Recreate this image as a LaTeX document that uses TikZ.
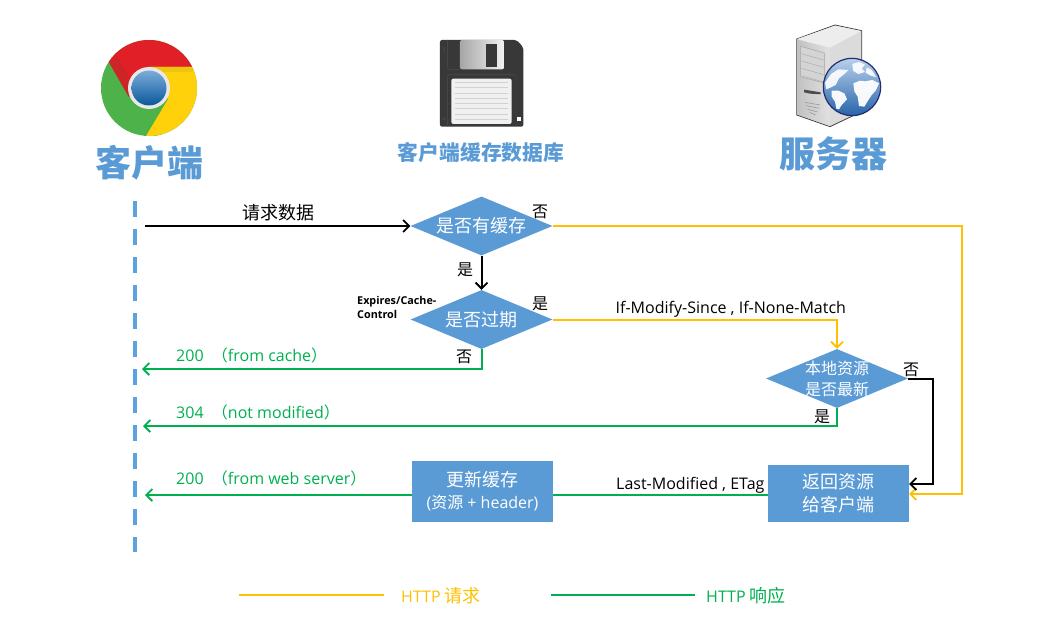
\documentclass[tikz,border=0pt]{standalone}
\usepackage{fontspec}
\setmainfont{Open Sans}
\newfontfamily\cjk{Noto Sans CJK SC}
\usetikzlibrary{shapes.geometric,arrows.meta}
\definecolor{bluefill}{HTML}{5B9BD5}
\definecolor{httpyellow}{HTML}{FFC000}
\definecolor{httpgreen}{HTML}{00B050}
\definecolor{floppy}{HTML}{383838}
\tikzset{
  decision/.style={diamond,fill=bluefill,inner sep=0pt,shape aspect=2.4,minimum width=142pt,minimum height=59pt,text=white,font=\cjk\fontsize{18}{20}\selectfont,align=center},
  procbox/.style={rectangle,fill=bluefill,inner sep=0pt,text=white,align=center,font=\cjk\fontsize{18}{23}\selectfont},
  title/.style={text=bluefill,inner sep=0pt,font=\cjk\bfseries\fontsize{#1}{#1}\selectfont},
  tag/.style={inner sep=0pt,font=\cjk\fontsize{16}{18}\selectfont},
  note/.style={inner sep=0pt,anchor=west,font=\fontsize{16}{18}\selectfont},
  barb/.style={-{Straight Barb[length=6pt,width=12pt,line width=1.8pt]}},
  req/.style={httpyellow,line width=2pt},
  resp/.style={httpgreen,line width=2pt},
  ctl/.style={black,line width=2pt},
}
\begin{document}
\begin{tikzpicture}[x=1pt,y=-1pt]
\useasboundingbox (0,0) rectangle (1057,631);
% ---- Chrome icon
\begin{scope}
  \clip (149,88) circle (48pt);
  \fill[color={rgb,255:red,76;green,178;blue,73}] (90,30) rectangle (210,146);
  \fill[color={rgb,255:red,62;green,150;blue,62}] (168,99) -- (146,136) -- (135,150) -- (160,150) -- cycle;
  \fill[color={rgb,255:red,224;green,32;blue,38}] (129,97) -- (95,38) -- (95,30) -- (205,30) -- (205,67) -- (149,67) -- cycle;
  \fill[color={rgb,255:red,205;green,36;blue,40}] (129,97) -- (109,62) -- (118,57) -- (133,84) -- cycle;
  \fill[color={rgb,255:red,254;green,209;blue,10}] (149,67) -- (205,67) -- (205,145) -- (140,146) -- (168,99) -- cycle;
  \fill[color={rgb,255:red,238;green,196;blue,16}] (149,67) -- (205,67) -- (190,72) -- (160,72) -- cycle;
\end{scope}
\fill[color={rgb,255:red,232;green,232;blue,232}] (149,88) circle (21pt);
\shade[top color={rgb,255:red,122;green,172;blue,218},bottom color={rgb,255:red,10;green,88;blue,155}] (149,88) circle (17.5pt);
% ---- Floppy icon
\begin{scope}[shift={(380,20)},x=0.3333pt,y=-0.3333pt]
  \fill[floppy,rounded corners=2pt] (180,60) -- (410,60) -- (430,82) -- (430,320) -- (180,320) -- cycle;
  \draw[black!70,line width=.4pt,rounded corners=2pt] (203,60) -- (203,148) -- (240,148);
  \draw[black!70,line width=.4pt,rounded corners=2pt] (203,320) -- (203,164) -- (408,164) -- (408,320);
  \shade[left color=black!35,right color=black!5,rounded corners=2pt] (240,60) rectangle (372,148);
  \fill[floppy] (318,73) rectangle (352,140);
  \fill[color=black!6,rounded corners=2pt] (214,176) rectangle (395,312);
  \foreach \yy in {187,203,220,236,251,266,282,297}
    \draw[black!18,line width=.7pt] (225,\yy) -- (384,\yy);
  \fill[white] (411,290) rectangle (424,302);
  \fill[black!75] (187,290) rectangle (197,300);
  \fill[black!75] (189,82) rectangle (194,96);
\end{scope}
% ---- Server icon
\begin{scope}[shift={(760,15)},x=0.3333pt,y=-0.3333pt]
  \fill[color=black!14,draw=black!75,line width=.8pt,line join=round] (110,72) -- (225,30) -- (305,47) -- (305,290) -- (210,335) -- (110,300) -- cycle;
  \fill[color=black!7] (112,72) -- (225,32) -- (303,48) -- (210,98) -- cycle;
  \shade[left color=black!24,right color=black!12] (112,74) -- (210,100) -- (210,333) -- (112,298) -- cycle;
  \draw[black!35,line width=.5pt,fill=black!17] (122,94) -- (193,114) -- (193,204) -- (122,186) -- cycle;
  \foreach \yy in {0,1,2,3}
    \draw[black!32,line width=.5pt] (124,{116+22*\yy}) -- (191,{135+22*\yy});
  \fill[black!70] (132,224) -- (182,232) -- (182,238) -- (150,236) -- (132,232) -- cycle;
  \foreach \yy/\ww in {262/45,272/40,283/30,292/18}
    \draw[black!38,line width=.7pt] ({158-\ww/2},\yy) .. controls (158,{\yy+6}) .. ({158+\ww/2},{\yy+8});
\end{scope}
% ---- Globe
\begin{scope}[shift={(815,50)},x=0.3333pt,y=-0.3333pt]
  \shade[shading angle=10,top color={rgb,255:red,184;green,208;blue,236},bottom color={rgb,255:red,40;green,100;blue,170}] (111,111) circle (86);
  \fill[white,opacity=.95] (115,100) -- (135,92) -- (150,94) -- (172,90) -- (192,100) -- (182,122) -- (170,135) -- (160,150) -- (148,170) -- (132,168) -- (128,140) -- (118,124) -- cycle;
  \fill[white,opacity=.95] (50,122) -- (70,122) -- (88,130) -- (96,148) -- (80,165) -- (72,178) -- (64,176) -- (60,155) -- (50,140) -- cycle;
  \fill[white,opacity=.9] (30,98) -- (48,72) -- (70,58) -- (100,60) -- (88,72) -- (72,85) -- (62,105) -- (48,112) -- (34,118) -- cycle;
  \fill[white,opacity=.9] (112,42) -- (132,36) -- (150,44) -- (140,56) -- (150,66) -- (130,72) -- (114,62) -- cycle;
  \fill[white,opacity=.9] (155,52) -- (170,60) -- (184,82) -- (165,76) -- (152,68) -- cycle;
  \draw[color={rgb,255:red,36;green,44;blue,110},line width=1.2pt] (111,111) circle (86);
\end{scope}
% ---- titles
\node[title=36] (tclient) at (149,163) {客户端};
\node[title=20.8] (tcache) at (481,153) {客户端缓存数据库};
\node[title=36] (tserver) at (833,154) {服务器};
% ---- lifeline
\coordinate (lifetop) at (135,201);
\coordinate (lifebot) at (135,552);
\draw[color={rgb,255:red,91;green,163;blue,224},line width=4pt,dash pattern=on 16pt off 12pt] (lifetop) -- (lifebot);
% ---- flow nodes
\node[decision] (d1) at (481.5,226) {是否有缓存};
\node[decision] (d2) at (481.5,319.5) {是否过期};
\node[decision,label={[text=white,align=center,inner sep=0pt,font=\cjk\fontsize{16}{21}\selectfont]center:本地资源\\是否最新}] (d3) at (837,378.5) {};
\node[procbox,minimum width=141pt,minimum height=57pt] (ret) at (838.5,493.5) {返回资源\\给客户端};
\node[procbox,minimum width=141pt,minimum height=61pt,font=\fontsize{16}{22}\selectfont] (upd) at (482.5,491.5) {{\cjk\fontsize{18}{22}\selectfont 更新缓存}\\({\cjk 资源} + header)};
% ---- free ends
\coordinate (reqstart) at (145,226);
\coordinate (cachehit) at (142,369);
\coordinate (notmod) at (143,426);
\coordinate (fromweb) at (145,495);
\coordinate (yright1) at (962,226);
\coordinate (yright2) at (962,494);
\coordinate (kright1) at (933,378.5);
\coordinate (kright2) at (933,484);
\coordinate (retk) at (909,484);
\coordinate (rety) at (909,494);
\coordinate (d2turn) at (481.5,369);
\coordinate (d3turn) at (837,426);
\coordinate (d2right) at (837,319.5);
\coordinate (retw) at (768,495);
\coordinate (updE) at (553,495);
\coordinate (updW) at (412,495);
% ---- connectors
\draw[ctl,barb] (reqstart) -- (d1.west);
\draw[ctl,barb] (d1.south) -- (d2.north);
\draw[req,barb] (d1.east) -- (yright1) -- (yright2) -- (rety);
\draw[req,barb] (d2.east) -- (d2right) -- (d3.north);
\draw[resp,barb] (d2.south) -- (d2turn) -- (cachehit);
\draw[resp,barb] (d3.south) -- (d3turn) -- (notmod);
\draw[ctl,barb] (d3.east) -- (kright1) -- (kright2) -- (retk);
\draw[resp] (retw) -- (updE);
\draw[resp,barb] (updW) -- (fromweb);
% ---- labels
\node[tag,font=\cjk\fontsize{18}{20}\selectfont] (l1) at (278.5,213) {请求数据};
\node[tag] (l2) at (540,212) {否};
\node[tag] (l3) at (465,270) {是};
\node[inner sep=0pt,anchor=north west,align=left,font=\bfseries\fontsize{10.8}{14.5}\selectfont] (l4) at (357,296) {Expires/Cache-\\Control};
\node[tag] (l5) at (540,304) {是};
\node[tag] (l6) at (464,357) {否};
\node[note] (l7) at (615.5,309) {If-Modify-Since , If-None-Match};
\node[tag] (l8) at (911,370) {否};
\node[tag] (l9) at (822,417) {是};
\node[note,text=httpgreen] (l10) at (176,355) {200 \ {\cjk （}from cache{\cjk ）}};
\node[note,text=httpgreen] (l11) at (176,412) {304 \ {\cjk （}not modified{\cjk ）}};
\node[note,text=httpgreen] (l12) at (176,478) {200 \ {\cjk （}from web server{\cjk ）}};
\node[note] (l13) at (616,485) {Last-Modified , ETag};
% ---- legend
\coordinate (ly1) at (239,595);
\coordinate (ly2) at (384,595);
\coordinate (lg1) at (551,595);
\coordinate (lg2) at (695,595);
\draw[httpyellow,line width=1.8pt] (ly1) -- (ly2);
\draw[httpgreen,line width=1.8pt] (lg1) -- (lg2);
\node[note,text=httpyellow] (ll1) at (401,596) {HTTP {\cjk\fontsize{18}{18}\selectfont 请求}};
\node[note,text=httpgreen] (ll2) at (706,596) {HTTP {\cjk\fontsize{18}{18}\selectfont 响应}};
\end{tikzpicture}
\end{document}
